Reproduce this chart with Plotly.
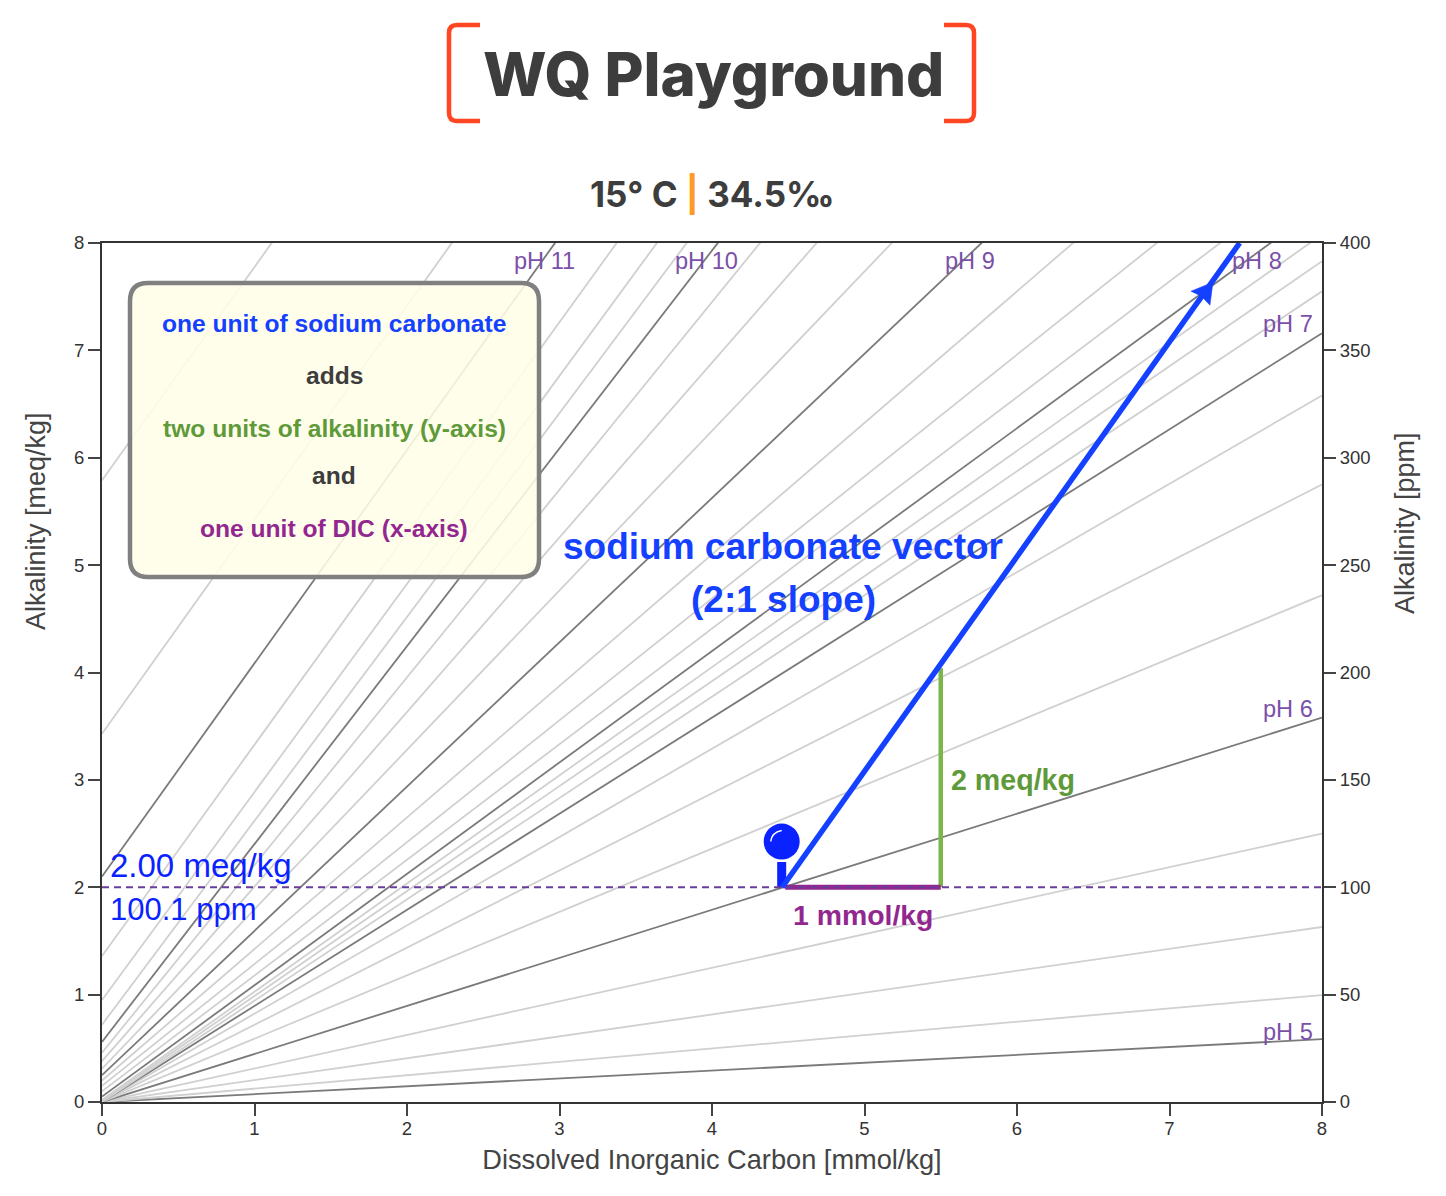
import plotly.graph_objects as go

# isolines: alkalinity where each pH line meets DIC = 0 and DIC = 8
ph_levels = [5, 5.25, 5.5, 5.75, 6, 6.25, 6.5, 6.75, 7, 7.25, 7.5, 7.75, 8, 8.25, 8.5, 8.75,
             9, 9.25, 9.5, 9.75, 10, 10.25, 10.5, 10.75, 11, 11.25, 11.5]
alk_at_dic0 = [0, 0, 0, 0, 0, 0, 0, 0, 0, 0, 0.01, 0.02, 0.05, 0.10, 0.15, 0.20,
               0.25, 0.31, 0.38, 0.46, 0.56, 0.72, 0.95, 1.36, 2.10, 3.43, 5.79]
alk_at_dic8 = [0.585, 0.996, 1.63, 2.50, 3.58, 4.72, 5.75, 6.58, 7.16, 7.55, 7.83, 8.08, 8.35, 8.72, 9.23, 10.0,
               11.0, 12.19, 13.39, 14.44, 15.3, 15.91, 16.45, 17.1, 17.99, 19.37, 21.68]
dic_ends = [0, 8]

ph_labels = ["pH 11", "pH 10", "pH 9", "pH 8", "pH 7", "pH 6", "pH 5"]
ph_label_x = [2.90, 3.967, 5.689, 7.574, 7.777, 7.777, 7.777]
ph_label_y = [7.83, 7.83, 7.83, 7.83, 7.25, 3.66, 0.652]

sample_dic = 4.457
sample_alk = 2.0
sample_ppm = 100
vector_dic = [4.46, 7.46]
vector_alk = [2.0, 8.0]
arrow_dic = 7.285
arrow_alk = 7.635
dic_leg_x = [4.48, 5.5]
dic_leg_y = [2.0, 2.0]
alk_leg_x = [5.5, 5.5]
alk_leg_y = [2.0, 4.04]

BLUE = "#1440ff"
PIN = "#0a22ff"
GREEN = "#5f9a3a"
MAGENTA = "#92278f"
PURPLE = "#7a50a8"
DARK = "#3d3d3d"
SANS = "Liberation Sans, sans-serif"


# page pixels to paper coords (plot area is 102..1322 by 243..1102 on the page)
def px(x):
    return (x - 102) / 1220


def py(y):
    return (1102 - y) / 859


fig = go.Figure()

for ph, a0, a8 in zip(ph_levels, alk_at_dic0, alk_at_dic8):
    major = ph == int(ph)
    fig.add_trace(go.Scatter(
        x=dic_ends, y=[a0, a8], mode="lines", name="pH %s" % ph,
        line=dict(color="#7a7a7a" if major else "#d0d0d0", width=1.8),
    ))

fig.add_trace(go.Scatter(
    x=dic_ends, y=[sample_ppm, sample_ppm], yaxis="y2", mode="lines",
    line=dict(color="#6a3d9a", width=2, dash="7px,5px"),
))

# pin on the sample point
fig.add_trace(go.Scatter(x=[sample_dic, sample_dic], y=[sample_alk, 2.235], mode="lines",
                         line=dict(color=PIN, width=9)))
fig.add_trace(go.Scatter(x=[sample_dic], y=[2.426], mode="markers",
                         marker=dict(color=PIN, size=36)))

fig.add_trace(go.Scatter(x=alk_leg_x, y=alk_leg_y, mode="lines", line=dict(color="#7ab648", width=4.5)))
fig.add_trace(go.Scatter(x=dic_leg_x, y=dic_leg_y, mode="lines", line=dict(color=MAGENTA, width=5)))
fig.add_trace(go.Scatter(x=vector_dic, y=vector_alk, mode="lines", line=dict(color=BLUE, width=5.5)))


def rounded_box(x0, y0, x1, y1, r):
    # path in paper coords, r in page pixels
    rx = r / 1220
    ry = r / 859
    l, r_, t, b = px(x0), px(x1), py(y0), py(y1)
    return ("M %f,%f L %f,%f Q %f,%f %f,%f L %f,%f Q %f,%f %f,%f L %f,%f Q %f,%f %f,%f L %f,%f Q %f,%f %f,%f Z"
            % (l + rx, t, r_ - rx, t, r_, t, r_, t - ry, r_, b + ry, r_, b, r_ - rx, b,
               l + rx, b, l, b, l, b + ry, l, t - ry, l, t, l + rx, t))


def bracket(outer, inner):
    # title bracket, outer = x of the upright, inner = x where the arms end
    d = 8 if inner > outer else -8
    return ("M %f,%f L %f,%f Q %f,%f %f,%f L %f,%f Q %f,%f %f,%f L %f,%f"
            % (px(inner), py(25), px(outer + d), py(25), px(outer), py(25), px(outer), py(33),
               px(outer), py(113), px(outer), py(121), px(outer + d), py(121), px(inner), py(121)))


shapes = [
    dict(type="path", xref="paper", yref="paper", layer="above", path=rounded_box(130, 283, 539, 577, 18),
         fillcolor="rgba(255,254,232,0.88)", line=dict(color="#808080", width=4.5)),
    dict(type="path", xref="paper", yref="paper", path=bracket(449, 480), line=dict(color="#ff4522", width=4.5)),
    dict(type="path", xref="paper", yref="paper", path=bracket(974, 944), line=dict(color="#ff4522", width=4.5)),
    # highlight on the pin head
    dict(type="path", xref="x", yref="y", xsizemode="pixel", ysizemode="pixel",
         xanchor=sample_dic, yanchor=2.426, layer="above",
         path="M -11,0 Q -10,9 0,11", line=dict(color="white", width=1.5)),
    # arrow head on the vector, pixel offsets from its tip
    dict(type="path", xref="x", yref="y", xsizemode="pixel", ysizemode="pixel",
         xanchor=arrow_dic, yanchor=arrow_alk, layer="above",
         path="M 0,0 L -22,-9 L -11.5,-14 L -3,-23 Z", fillcolor=BLUE, line=dict(color=BLUE, width=0.5)),
]

annotations = []


def note(text, x, y, size, color, family=SANS, bold=True, xref="paper", yref="paper", angle=0, anchor="center",
         weight=None):
    annotations.append(dict(
        text="<b>%s</b>" % text if bold else text, x=x, y=y, xref=xref, yref=yref,
        showarrow=False, xanchor=anchor, yanchor="middle", textangle=angle,
        font=dict(size=size, color=color, family=family, weight=weight),
    ))


note("WQ Playground", px(713), py(74), 60, DARK, family="Inter", bold=False, weight=800)
note('15° C <span style="color:#ff9a24">|</span> 34.5‰', px(712), py(194), 35, DARK, family="Inter")

note("one unit of sodium carbonate", px(334), py(323), 24.6, BLUE)
note("adds", px(334), py(375), 24.6, DARK)
note("two units of alkalinity (y-axis)", px(334), py(428), 24.6, GREEN)
note("and", px(334), py(475), 24.6, DARK)
note("one unit of DIC (x-axis)", px(334), py(528), 24.6, MAGENTA)
note("sodium carbonate vector", px(783), py(546), 37, BLUE)
note("(2:1 slope)", px(783), py(599), 37, BLUE)
note("2 meq/kg", px(1013), py(780), 28.6, GREEN)
note("1 mmol/kg", px(863), py(915), 28.4, MAGENTA)

note("2.00 meq/kg", px(108), py(865), 33, PIN, bold=False, anchor="left")
note("100.1 ppm", px(108), py(909), 31, PIN, bold=False, anchor="left")

note("Alkalinity [meq/kg]", px(36), py(521), 27, "#444", bold=False, angle=-90)
note("Alkalinity [ppm]", px(1405), py(523), 27, "#444", bold=False, angle=-90)

for label, lx, ly in zip(ph_labels, ph_label_x, ph_label_y):
    note(label, lx, ly, 23.6, PURPLE, bold=False, xref="x", yref="y")

axis_style = dict(
    showgrid=False, zeroline=False, showline=True, linecolor="#333", linewidth=2,
    ticks="outside", ticklen=12, tickwidth=1.5, tickcolor="#444",
    tickfont=dict(size=18.5, color="#333", family=SANS),
)
title_font = dict(size=27.2, color="#444", family=SANS)

fig.update_layout(
    width=1430, height=1180, autosize=False,
    margin=dict(l=94, r=116, t=235, b=86),
    paper_bgcolor="white", plot_bgcolor="white",
    showlegend=False, hovermode=False,
    shapes=shapes, annotations=annotations,
    xaxis=dict(range=[0, 8], dtick=1, mirror=True, ticklabelstandoff=-3,
               title=dict(text="Dissolved Inorganic Carbon [mmol/kg]", font=title_font, standoff=12), **axis_style),
    yaxis=dict(range=[0, 8], dtick=1, **axis_style),
    yaxis2=dict(range=[0, 400], dtick=50, overlaying="y", side="right", **axis_style),
)

fig.write_html("out.html")
